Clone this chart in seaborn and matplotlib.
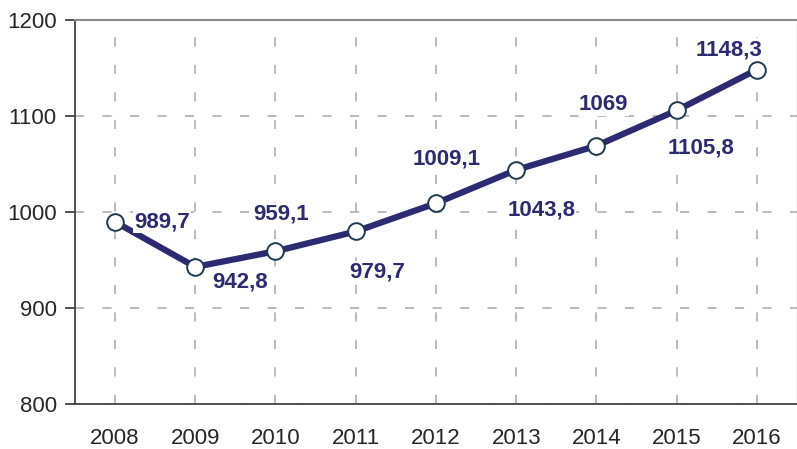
import matplotlib
matplotlib.use("Agg")
import matplotlib.pyplot as plt
import seaborn as sns
import pandas as pd
import numpy as np

# dados do grafico
years = ["2008", "2009", "2010", "2011", "2012", "2013", "2014", "2015", "2016"]
values = [989.7, 942.8, 959.1, 979.7, 1009.1, 1043.8, 1069.0, 1105.8, 1148.3]
value_labels = ["989,7", "942,8", "959,1", "979,7", "1009,1", "1043,8", "1069", "1105,8", "1148,3"]
y_ticks = [800, 900, 1000, 1100, 1200]

# deslocamento dos rotulos (pixels)
label_offsets = [(47, 0), (45, -15), (6, 37), (21, -41), (11, 44),
                 (25, -40), (7, 41), (24, -38), (-28, 20)]

sns.set_style("white")
plt.rcParams["font.family"] = ["Liberation Sans", "DejaVu Sans"]

line_color = "#2c2a70"
grid_color = "#a8a8a8"

df = pd.DataFrame({"pos": np.arange(len(years)), "value": values})

fig = plt.figure(figsize=(7.97, 4.49), dpi=100)
ax = fig.add_axes([0.094, 0.1002, 0.906, 0.8553])

sns.lineplot(data=df, x="pos", y="value", ax=ax, color=line_color, linewidth=4.5,
             marker="o", markersize=12, markerfacecolor="white",
             markeredgecolor="#1f3a4e", markeredgewidth=1.4, zorder=5)

ax.set_xlim(-0.5, len(years) - 0.5)
ax.set_ylim(800, 1200)
ax.set_yticks(y_ticks)
ax.set_yticklabels([str(v) for v in y_ticks], fontsize=16)

# rotulos dos anos no centro, marcas nas fronteiras
ax.set_xticks(np.arange(len(years)))
ax.set_xticklabels(years, fontsize=16)
ax.set_xticks(np.arange(len(years) + 1) - 0.5, minor=True)
ax.tick_params(axis="x", which="major", length=0, pad=17)
ax.tick_params(axis="x", which="minor", length=7, width=1.2, color="#333333", direction="out")
ax.tick_params(axis="y", which="major", length=7, width=1.2, color="#333333", direction="out", pad=6)
ax.tick_params(left=True, bottom=True)

ax.grid(True, axis="both", which="major", color=grid_color, linestyle=(0, (6, 12)), linewidth=1.1)
ax.set_axisbelow(True)

ax.set_xlabel("")
ax.set_ylabel("")

for side in ["left", "bottom"]:
    ax.spines[side].set_color("#444444")
    ax.spines[side].set_linewidth(1.3)
ax.spines["top"].set_color("#8a8a8a")
ax.spines["top"].set_linewidth(1.5)
ax.spines["right"].set_color("#c8c8c8")
ax.spines["right"].set_linewidth(1.0)

for i, (val, lab) in enumerate(zip(values, value_labels)):
    dx, dy = label_offsets[i]
    ax.annotate(lab, (i, val), xytext=(dx, dy), textcoords="offset pixels",
                ha="center", va="center", fontsize=16, fontweight="bold",
                color=line_color, zorder=6,
                bbox=dict(boxstyle="square,pad=0.05", fc="white", ec="none"))

fig.savefig("out.png", dpi=100)
